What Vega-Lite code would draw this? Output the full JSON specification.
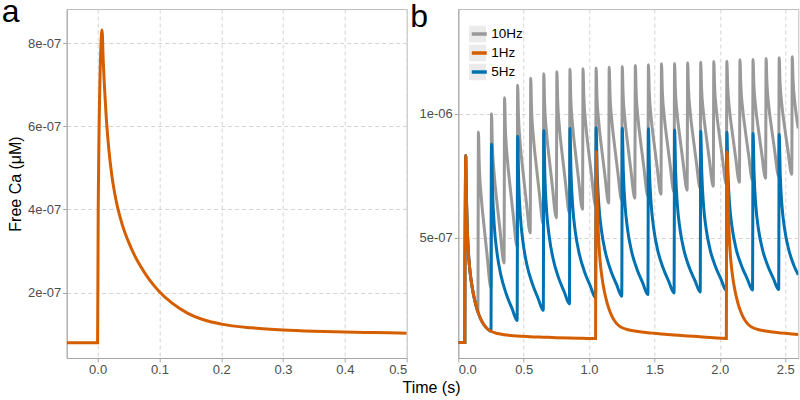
{
  "$schema": "https://vega.github.io/schema/vega-lite/v6.json",
  "background": "white",
  "padding": {"left": 0.7, "top": -5, "right": 0, "bottom": 0},
  "bounds": "flush",
  "spacing": 51.6,
  "config": {
    "font": "Liberation Sans",
    "view": {"stroke": "#bdbdbd", "strokeWidth": 1},
    "style": {
      "guide-title": {"fontSize": 16, "font": "Liberation Sans", "fontWeight": "normal", "fill": "black"},
      "guide-label": {"fontSize": 13, "font": "Liberation Sans", "fill": "#4d4d4d"}
    },
    "axis": {
      "labelFont": "Liberation Sans", "labelFontSize": 13, "labelColor": "#4d4d4d",
      "titleFont": "Liberation Sans", "titleFontSize": 16, "titleFontWeight": "normal", "titleColor": "black",
      "domainColor": "#a6a6a6", "tickColor": "#a6a6a6", "tickSize": 4, "labelPadding": 2,
      "gridColor": "#cfcfcf", "gridDash": [4, 3], "gridWidth": 0.9
    }
  },
  "datasets": {
    "single": [
      {"t": -0.05, "v": 7.9e-8}, {"t": 0, "v": 7.9e-8}, {"t": 0.001, "v": 4.0e-7}, {"t": 0.0055, "v": 8.0e-7},
      {"t": 0.0072, "v": 8.32e-7}, {"t": 0.009, "v": 7.62e-7}, {"t": 0.011, "v": 6.98e-7}, {"t": 0.014, "v": 6.21e-7},
      {"t": 0.018, "v": 5.47e-7}, {"t": 0.023, "v": 4.82e-7}, {"t": 0.03, "v": 4.21e-7}, {"t": 0.04, "v": 3.63e-7},
      {"t": 0.05, "v": 3.22e-7}, {"t": 0.06, "v": 2.89e-7}, {"t": 0.07, "v": 2.62e-7}, {"t": 0.08, "v": 2.39e-7},
      {"t": 0.09, "v": 2.19e-7}, {"t": 0.1, "v": 2.02e-7}, {"t": 0.12, "v": 1.75e-7}, {"t": 0.146, "v": 1.50e-7},
      {"t": 0.17, "v": 1.35e-7}, {"t": 0.2, "v": 1.24e-7}, {"t": 0.25, "v": 1.15e-7}, {"t": 0.3, "v": 1.10e-7},
      {"t": 0.35, "v": 1.07e-7}, {"t": 0.4, "v": 1.05e-7}, {"t": 0.45, "v": 1.035e-7}, {"t": 0.5, "v": 1.02e-7}
    ],
    "hz1": [
      {"t": 0, "v": 7.9e-8}, {"t": 0.05, "v": 7.9e-8}, {"t": 0.051, "v": 4.0e-7}, {"t": 0.0555, "v": 8.0e-7},
      {"t": 0.0572, "v": 8.32e-7}, {"t": 0.059, "v": 7.62e-7}, {"t": 0.061, "v": 6.98e-7}, {"t": 0.064, "v": 6.21e-7},
      {"t": 0.068, "v": 5.47e-7}, {"t": 0.073, "v": 4.82e-7}, {"t": 0.08, "v": 4.21e-7}, {"t": 0.09, "v": 3.63e-7},
      {"t": 0.1, "v": 3.22e-7}, {"t": 0.11, "v": 2.89e-7}, {"t": 0.12, "v": 2.62e-7}, {"t": 0.13, "v": 2.39e-7},
      {"t": 0.14, "v": 2.19e-7}, {"t": 0.15, "v": 2.02e-7}, {"t": 0.17, "v": 1.75e-7}, {"t": 0.196, "v": 1.50e-7},
      {"t": 0.22, "v": 1.35e-7}, {"t": 0.25, "v": 1.24e-7}, {"t": 0.3, "v": 1.15e-7}, {"t": 0.35, "v": 1.10e-7},
      {"t": 0.4, "v": 1.07e-7}, {"t": 0.45, "v": 1.05e-7}, {"t": 0.5, "v": 1.035e-7}, {"t": 0.55, "v": 1.02e-7},
      {"t": 0.65, "v": 1.0e-7}, {"t": 0.75, "v": 9.8e-8}, {"t": 0.85, "v": 9.65e-8}, {"t": 0.95, "v": 9.55e-8},
      {"t": 1.05, "v": 9.45e-8},
      {"t": 1.051, "v": 4.15e-7}, {"t": 1.0555, "v": 8.15e-7}, {"t": 1.0572, "v": 8.47e-7}, {"t": 1.059, "v": 7.77e-7},
      {"t": 1.061, "v": 7.13e-7}, {"t": 1.064, "v": 6.36e-7}, {"t": 1.068, "v": 5.62e-7}, {"t": 1.073, "v": 4.97e-7},
      {"t": 1.08, "v": 4.36e-7}, {"t": 1.09, "v": 3.78e-7}, {"t": 1.1, "v": 3.37e-7}, {"t": 1.11, "v": 3.04e-7},
      {"t": 1.12, "v": 2.77e-7}, {"t": 1.13, "v": 2.54e-7}, {"t": 1.14, "v": 2.34e-7}, {"t": 1.15, "v": 2.17e-7},
      {"t": 1.17, "v": 1.90e-7}, {"t": 1.196, "v": 1.65e-7}, {"t": 1.22, "v": 1.50e-7}, {"t": 1.25, "v": 1.39e-7},
      {"t": 1.3, "v": 1.30e-7}, {"t": 1.35, "v": 1.25e-7}, {"t": 1.4, "v": 1.21e-7}, {"t": 1.45, "v": 1.18e-7},
      {"t": 1.5, "v": 1.155e-7}, {"t": 1.55, "v": 1.13e-7}, {"t": 1.6, "v": 1.11e-7}, {"t": 1.65, "v": 1.09e-7},
      {"t": 1.75, "v": 1.05e-7}, {"t": 1.85, "v": 1.015e-7}, {"t": 1.95, "v": 9.75e-8}, {"t": 2.05, "v": 9.45e-8},
      {"t": 2.051, "v": 4.15e-7}, {"t": 2.0555, "v": 8.15e-7}, {"t": 2.0572, "v": 8.47e-7}, {"t": 2.059, "v": 7.77e-7},
      {"t": 2.061, "v": 7.13e-7}, {"t": 2.064, "v": 6.36e-7}, {"t": 2.068, "v": 5.62e-7}, {"t": 2.073, "v": 4.97e-7},
      {"t": 2.08, "v": 4.36e-7}, {"t": 2.09, "v": 3.78e-7}, {"t": 2.1, "v": 3.37e-7}, {"t": 2.11, "v": 3.04e-7},
      {"t": 2.12, "v": 2.77e-7}, {"t": 2.13, "v": 2.54e-7}, {"t": 2.14, "v": 2.34e-7}, {"t": 2.15, "v": 2.17e-7},
      {"t": 2.17, "v": 1.90e-7}, {"t": 2.196, "v": 1.65e-7}, {"t": 2.22, "v": 1.50e-7}, {"t": 2.25, "v": 1.39e-7},
      {"t": 2.3, "v": 1.30e-7}, {"t": 2.35, "v": 1.25e-7}, {"t": 2.4, "v": 1.21e-7}, {"t": 2.45, "v": 1.18e-7},
      {"t": 2.5, "v": 1.155e-7}, {"t": 2.55, "v": 1.13e-7}, {"t": 2.6, "v": 1.11e-7}
    ],
    "hz5": [
      {"t": 0, "v": 7.9e-8}, {"t": 0.05, "v": 7.9e-8}, {"t": 0.051, "v": 4.0e-7}, {"t": 0.0555, "v": 8.0e-7},
      {"t": 0.0572, "v": 8.32e-7}, {"t": 0.059, "v": 7.62e-7}, {"t": 0.061, "v": 6.98e-7}, {"t": 0.064, "v": 6.21e-7},
      {"t": 0.068, "v": 5.47e-7}, {"t": 0.073, "v": 4.82e-7}, {"t": 0.08, "v": 4.21e-7}, {"t": 0.09, "v": 3.63e-7},
      {"t": 0.1, "v": 3.22e-7}, {"t": 0.11, "v": 2.89e-7}, {"t": 0.12, "v": 2.62e-7}, {"t": 0.13, "v": 2.39e-7},
      {"t": 0.14, "v": 2.19e-7}, {"t": 0.15, "v": 2.02e-7}, {"t": 0.17, "v": 1.75e-7}, {"t": 0.196, "v": 1.50e-7},
      {"t": 0.22, "v": 1.35e-7}, {"t": 0.25, "v": 1.24e-7},
      {"t": 0.254, "v": 8.77e-7}, {"t": 0.262, "v": 6.92e-7}, {"t": 0.275, "v": 5.50e-7}, {"t": 0.295, "v": 4.44e-7}, {"t": 0.325, "v": 3.52e-7}, {"t": 0.365, "v": 2.77e-7}, {"t": 0.41, "v": 2.17e-7}, {"t": 0.45, "v": 1.67e-7},
      {"t": 0.454, "v": 9.10e-7}, {"t": 0.462, "v": 7.27e-7}, {"t": 0.475, "v": 5.87e-7}, {"t": 0.495, "v": 4.82e-7}, {"t": 0.525, "v": 3.91e-7}, {"t": 0.565, "v": 3.17e-7}, {"t": 0.61, "v": 2.57e-7}, {"t": 0.65, "v": 2.08e-7},
      {"t": 0.654, "v": 9.33e-7}, {"t": 0.662, "v": 7.51e-7}, {"t": 0.675, "v": 6.11e-7}, {"t": 0.695, "v": 5.07e-7}, {"t": 0.725, "v": 4.16e-7}, {"t": 0.765, "v": 3.42e-7}, {"t": 0.81, "v": 2.83e-7}, {"t": 0.85, "v": 2.34e-7},
      {"t": 0.854, "v": 9.41e-7}, {"t": 0.862, "v": 7.63e-7}, {"t": 0.875, "v": 6.27e-7}, {"t": 0.895, "v": 5.24e-7}, {"t": 0.925, "v": 4.36e-7}, {"t": 0.965, "v": 3.64e-7}, {"t": 1.01, "v": 3.06e-7}, {"t": 1.05, "v": 2.58e-7},
      {"t": 1.054, "v": 9.44e-7}, {"t": 1.062, "v": 7.67e-7}, {"t": 1.075, "v": 6.32e-7}, {"t": 1.095, "v": 5.30e-7}, {"t": 1.125, "v": 4.42e-7}, {"t": 1.165, "v": 3.70e-7}, {"t": 1.21, "v": 3.13e-7}, {"t": 1.25, "v": 2.65e-7},
      {"t": 1.254, "v": 9.42e-7}, {"t": 1.262, "v": 7.68e-7}, {"t": 1.275, "v": 6.34e-7}, {"t": 1.295, "v": 5.33e-7}, {"t": 1.325, "v": 4.46e-7}, {"t": 1.365, "v": 3.76e-7}, {"t": 1.41, "v": 3.19e-7}, {"t": 1.45, "v": 2.72e-7},
      {"t": 1.454, "v": 9.40e-7}, {"t": 1.462, "v": 7.68e-7}, {"t": 1.475, "v": 6.36e-7}, {"t": 1.495, "v": 5.36e-7}, {"t": 1.525, "v": 4.50e-7}, {"t": 1.565, "v": 3.81e-7}, {"t": 1.61, "v": 3.24e-7}, {"t": 1.65, "v": 2.78e-7},
      {"t": 1.654, "v": 9.35e-7}, {"t": 1.662, "v": 7.65e-7}, {"t": 1.675, "v": 6.35e-7}, {"t": 1.695, "v": 5.37e-7}, {"t": 1.725, "v": 4.52e-7}, {"t": 1.765, "v": 3.83e-7}, {"t": 1.81, "v": 3.28e-7}, {"t": 1.85, "v": 2.82e-7},
      {"t": 1.854, "v": 9.30e-7}, {"t": 1.862, "v": 7.63e-7}, {"t": 1.875, "v": 6.34e-7}, {"t": 1.895, "v": 5.38e-7}, {"t": 1.925, "v": 4.54e-7}, {"t": 1.965, "v": 3.87e-7}, {"t": 2.01, "v": 3.32e-7}, {"t": 2.05, "v": 2.87e-7},
      {"t": 2.054, "v": 9.26e-7}, {"t": 2.062, "v": 7.61e-7}, {"t": 2.075, "v": 6.33e-7}, {"t": 2.095, "v": 5.38e-7}, {"t": 2.125, "v": 4.55e-7}, {"t": 2.165, "v": 3.89e-7}, {"t": 2.21, "v": 3.35e-7}, {"t": 2.25, "v": 2.90e-7},
      {"t": 2.254, "v": 9.21e-7}, {"t": 2.262, "v": 7.57e-7}, {"t": 2.275, "v": 6.32e-7}, {"t": 2.295, "v": 5.37e-7}, {"t": 2.325, "v": 4.56e-7}, {"t": 2.365, "v": 3.90e-7}, {"t": 2.41, "v": 3.36e-7}, {"t": 2.45, "v": 2.92e-7},
      {"t": 2.454, "v": 9.17e-7}, {"t": 2.462, "v": 7.55e-7}, {"t": 2.475, "v": 6.31e-7}, {"t": 2.495, "v": 5.38e-7}, {"t": 2.525, "v": 4.57e-7}, {"t": 2.565, "v": 3.91e-7}, {"t": 2.6, "v": 3.51e-7}
    ],
    "hz10": [
      {"t": 0, "v": 7.9e-8}, {"t": 0.05, "v": 7.9e-8}, {"t": 0.051, "v": 4.0e-7}, {"t": 0.0555, "v": 8.0e-7},
      {"t": 0.0572, "v": 8.32e-7}, {"t": 0.059, "v": 7.62e-7}, {"t": 0.061, "v": 6.98e-7}, {"t": 0.064, "v": 6.21e-7},
      {"t": 0.068, "v": 5.47e-7}, {"t": 0.073, "v": 4.82e-7}, {"t": 0.08, "v": 4.21e-7}, {"t": 0.09, "v": 3.63e-7},
      {"t": 0.1, "v": 3.22e-7}, {"t": 0.11, "v": 2.89e-7}, {"t": 0.12, "v": 2.62e-7}, {"t": 0.13, "v": 2.39e-7},
      {"t": 0.14, "v": 2.19e-7}, {"t": 0.15, "v": 2.02e-7},
      {"t": 0.154, "v": 9.27e-7}, {"t": 0.16, "v": 8.01e-7}, {"t": 0.174, "v": 6.75e-7}, {"t": 0.194, "v": 5.62e-7}, {"t": 0.219, "v": 4.36e-7}, {"t": 0.25, "v": 2.98e-7},
      {"t": 0.254, "v": 10.0e-7}, {"t": 0.26, "v": 8.80e-7}, {"t": 0.274, "v": 7.60e-7}, {"t": 0.294, "v": 6.51e-7}, {"t": 0.319, "v": 5.31e-7}, {"t": 0.35, "v": 3.99e-7},
      {"t": 0.354, "v": 10.65e-7}, {"t": 0.36, "v": 9.45e-7}, {"t": 0.374, "v": 8.25e-7}, {"t": 0.394, "v": 7.17e-7}, {"t": 0.419, "v": 5.97e-7}, {"t": 0.45, "v": 4.65e-7},
      {"t": 0.454, "v": 11.15e-7}, {"t": 0.46, "v": 9.96e-7}, {"t": 0.474, "v": 8.77e-7}, {"t": 0.494, "v": 7.70e-7}, {"t": 0.519, "v": 6.51e-7}, {"t": 0.55, "v": 5.2e-7},
      {"t": 0.554, "v": 11.43e-7}, {"t": 0.56, "v": 10.25e-7}, {"t": 0.574, "v": 9.08e-7}, {"t": 0.594, "v": 8.02e-7}, {"t": 0.619, "v": 6.84e-7}, {"t": 0.65, "v": 5.55e-7},
      {"t": 0.654, "v": 11.61e-7}, {"t": 0.66, "v": 10.45e-7}, {"t": 0.674, "v": 9.29e-7}, {"t": 0.694, "v": 8.25e-7}, {"t": 0.719, "v": 7.09e-7}, {"t": 0.75, "v": 5.81e-7},
      {"t": 0.754, "v": 11.69e-7}, {"t": 0.76, "v": 10.55e-7}, {"t": 0.774, "v": 9.41e-7}, {"t": 0.794, "v": 8.39e-7}, {"t": 0.819, "v": 7.25e-7}, {"t": 0.85, "v": 6.0e-7},
      {"t": 0.854, "v": 11.79e-7}, {"t": 0.86, "v": 10.66e-7}, {"t": 0.874, "v": 9.53e-7}, {"t": 0.894, "v": 8.52e-7}, {"t": 0.919, "v": 7.39e-7}, {"t": 0.95, "v": 6.15e-7},
      {"t": 0.954, "v": 11.81e-7}, {"t": 0.96, "v": 10.71e-7}, {"t": 0.974, "v": 9.61e-7}, {"t": 0.994, "v": 8.61e-7}, {"t": 1.019, "v": 7.51e-7}, {"t": 1.05, "v": 6.3e-7},
      {"t": 1.054, "v": 11.85e-7}, {"t": 1.06, "v": 10.76e-7}, {"t": 1.074, "v": 9.67e-7}, {"t": 1.094, "v": 8.69e-7}, {"t": 1.119, "v": 7.61e-7}, {"t": 1.15, "v": 6.41e-7},
      {"t": 1.154, "v": 11.88e-7}, {"t": 1.16, "v": 10.80e-7}, {"t": 1.174, "v": 9.73e-7}, {"t": 1.194, "v": 8.76e-7}, {"t": 1.219, "v": 7.68e-7}, {"t": 1.25, "v": 6.5e-7},
      {"t": 1.254, "v": 11.91e-7}, {"t": 1.26, "v": 10.85e-7}, {"t": 1.274, "v": 9.79e-7}, {"t": 1.294, "v": 8.83e-7}, {"t": 1.319, "v": 7.77e-7}, {"t": 1.35, "v": 6.6e-7},
      {"t": 1.354, "v": 11.95e-7}, {"t": 1.36, "v": 10.90e-7}, {"t": 1.374, "v": 9.84e-7}, {"t": 1.394, "v": 8.89e-7}, {"t": 1.419, "v": 7.84e-7}, {"t": 1.45, "v": 6.68e-7},
      {"t": 1.454, "v": 11.98e-7}, {"t": 1.46, "v": 10.94e-7}, {"t": 1.474, "v": 9.89e-7}, {"t": 1.494, "v": 8.95e-7}, {"t": 1.519, "v": 7.91e-7}, {"t": 1.55, "v": 6.76e-7},
      {"t": 1.554, "v": 12.02e-7}, {"t": 1.56, "v": 10.98e-7}, {"t": 1.574, "v": 9.95e-7}, {"t": 1.594, "v": 9.02e-7}, {"t": 1.619, "v": 7.98e-7}, {"t": 1.65, "v": 6.84e-7},
      {"t": 1.654, "v": 12.03e-7}, {"t": 1.66, "v": 11.01e-7}, {"t": 1.674, "v": 9.99e-7}, {"t": 1.694, "v": 9.07e-7}, {"t": 1.719, "v": 8.04e-7}, {"t": 1.75, "v": 6.92e-7},
      {"t": 1.754, "v": 12.06e-7}, {"t": 1.76, "v": 11.05e-7}, {"t": 1.774, "v": 10.04e-7}, {"t": 1.794, "v": 9.13e-7}, {"t": 1.819, "v": 8.11e-7}, {"t": 1.85, "v": 7.0e-7},
      {"t": 1.854, "v": 12.08e-7}, {"t": 1.86, "v": 11.08e-7}, {"t": 1.874, "v": 10.08e-7}, {"t": 1.894, "v": 9.18e-7}, {"t": 1.919, "v": 8.18e-7}, {"t": 1.95, "v": 7.08e-7},
      {"t": 1.954, "v": 12.11e-7}, {"t": 1.96, "v": 11.12e-7}, {"t": 1.974, "v": 10.13e-7}, {"t": 1.994, "v": 9.24e-7}, {"t": 2.019, "v": 8.25e-7}, {"t": 2.05, "v": 7.16e-7},
      {"t": 2.054, "v": 12.12e-7}, {"t": 2.06, "v": 11.14e-7}, {"t": 2.074, "v": 10.17e-7}, {"t": 2.094, "v": 9.29e-7}, {"t": 2.119, "v": 8.31e-7}, {"t": 2.15, "v": 7.24e-7},
      {"t": 2.154, "v": 12.18e-7}, {"t": 2.16, "v": 11.21e-7}, {"t": 2.174, "v": 10.24e-7}, {"t": 2.194, "v": 9.36e-7}, {"t": 2.219, "v": 8.39e-7}, {"t": 2.25, "v": 7.32e-7},
      {"t": 2.254, "v": 12.19e-7}, {"t": 2.26, "v": 11.23e-7}, {"t": 2.274, "v": 10.27e-7}, {"t": 2.294, "v": 9.41e-7}, {"t": 2.319, "v": 8.45e-7}, {"t": 2.35, "v": 7.4e-7},
      {"t": 2.354, "v": 12.23e-7}, {"t": 2.36, "v": 11.28e-7}, {"t": 2.374, "v": 10.33e-7}, {"t": 2.394, "v": 9.48e-7}, {"t": 2.419, "v": 8.53e-7}, {"t": 2.45, "v": 7.48e-7},
      {"t": 2.454, "v": 12.26e-7}, {"t": 2.46, "v": 11.32e-7}, {"t": 2.474, "v": 10.38e-7}, {"t": 2.494, "v": 9.53e-7}, {"t": 2.519, "v": 8.59e-7}, {"t": 2.55, "v": 7.56e-7},
      {"t": 2.554, "v": 12.30e-7}, {"t": 2.56, "v": 11.37e-7}, {"t": 2.574, "v": 10.44e-7}, {"t": 2.594, "v": 9.60e-7}, {"t": 2.6, "v": 9.41e-7}
    ],
    "keys": [{"k": "10Hz"}, {"k": "1Hz"}, {"k": "5Hz"}]
  },
  "hconcat": [
    {
      "width": 340,
      "height": 349,
      "layer": [
        {
          "data": {"name": "single"},
          "mark": {"type": "line", "color": "#d55e00", "strokeWidth": 3, "interpolate": "monotone", "clip": true},
          "encoding": {
            "x": {
              "field": "t", "type": "quantitative",
              "scale": {"domain": [-0.05, 0.5], "nice": false, "zero": false},
              "axis": {
                "values": [0, 0.05, 0.1, 0.15, 0.2, 0.25, 0.3, 0.35, 0.4, 0.45, 0.5],
                "labelExpr": "abs(datum.value*10 - round(datum.value*10)) < 0.001 ? format(datum.value, '.1f') : ''",
                "labelFontSize": 13,
                "encode": {"ticks": {"update": {"opacity": {"signal": "abs(datum.value*10 - round(datum.value*10)) < 0.001 ? 1 : 0"}}}},
                "title": "Time (s)", "titleFontSize": 16, "titleFontWeight": "normal", "titleColor": "black",
                "titleX": 364.3, "titleY": 35, "titleBaseline": "alphabetic"
              }
            },
            "y": {
              "field": "v", "type": "quantitative",
              "scale": {"domain": [4.24e-8, 8.827e-7], "nice": false, "zero": false},
              "axis": {
                "values": [2e-7, 4e-7, 6e-7, 8e-7],
                "labelExpr": "replace(format(datum.value, '.0e'), 'e-', 'e-0')",
                "labelFontSize": 13,
                "title": "Free Ca (μM)", "titleFontSize": 16, "titleFontWeight": "normal", "titleColor": "black",
                "titleX": -46, "titleBaseline": "alphabetic"
              }
            }
          }
        },
        {
          "data": {"values": [{}]},
          "mark": {"type": "text", "text": "a", "font": "Liberation Sans", "fontSize": 32, "color": "black", "align": "left", "baseline": "alphabetic", "dx": -65, "dy": 12.7},
          "encoding": {
            "x": {"datum": -0.05, "type": "quantitative"},
            "y": {"datum": 8.827e-7, "type": "quantitative"}
          }
        }
      ]
    },
    {
      "width": 340,
      "height": 349,
      "layer": [
        {
          "data": {"name": "hz10"},
          "mark": {"type": "line", "strokeWidth": 3, "interpolate": "monotone", "clip": true},
          "encoding": {
            "x": {
              "field": "t", "type": "quantitative",
              "scale": {"domain": [0, 2.6], "nice": false, "zero": false},
              "axis": {
                "values": [0, 0.25, 0.5, 0.75, 1, 1.25, 1.5, 1.75, 2, 2.25, 2.5],
                "labelExpr": "abs(datum.value*2 - round(datum.value*2)) < 0.001 ? format(datum.value, '.1f') : ''",
                "labelFontSize": 13,
                "encode": {"ticks": {"update": {"opacity": {"signal": "abs(datum.value*2 - round(datum.value*2)) < 0.001 ? 1 : 0"}}}},
                "title": null
              }
            },
            "y": {
              "field": "v", "type": "quantitative",
              "scale": {"domain": [1.61e-8, 1.4222e-6], "nice": false, "zero": false},
              "axis": {
                "values": [5e-7, 1e-6],
                "labelExpr": "replace(format(datum.value, '.0e'), 'e-', 'e-0')",
                "labelFontSize": 13,
                "title": null
              }
            },
            "color": {
              "datum": "10Hz", "type": "nominal",
              "scale": {"domain": ["10Hz", "1Hz", "5Hz"], "range": ["#999999", "#d55e00", "#0072b2"]},
              "legend": {
                "orient": "none", "legendX": 403.1, "legendY": 16.5, "title": null, "padding": 0,
                "symbolType": "stroke", "symbolStrokeWidth": 3.5, "symbolSize": 225, "symbolOpacity": 1,
                "labelFont": "Liberation Sans", "labelFontSize": 13.5, "labelColor": "black", "labelOffset": 2.5,
                "rowPadding": 2, "clipHeight": 17, "zindex": 2
              }
            }
          }
        },
        {
          "data": {"name": "hz5"},
          "mark": {"type": "line", "strokeWidth": 3, "interpolate": "monotone", "clip": true},
          "encoding": {
            "x": {"field": "t", "type": "quantitative"},
            "y": {"field": "v", "type": "quantitative"},
            "color": {"datum": "5Hz", "type": "nominal"}
          }
        },
        {
          "data": {"name": "hz1"},
          "mark": {"type": "line", "strokeWidth": 3, "interpolate": "monotone", "clip": true},
          "encoding": {
            "x": {"field": "t", "type": "quantitative"},
            "y": {"field": "v", "type": "quantitative"},
            "color": {"datum": "1Hz", "type": "nominal"}
          }
        },
        {
          "data": {"name": "keys"},
          "mark": {"type": "square", "filled": true, "size": 0, "strokeWidth": 0},
          "encoding": {
            "x": {"datum": 0, "type": "quantitative"},
            "y": {"datum": 1e-6, "type": "quantitative"},
            "fill": {
              "field": "k", "type": "nominal",
              "scale": {"range": ["#ebebeb", "#ebebeb", "#ebebeb"]},
              "legend": {
                "orient": "none", "legendX": 402.3, "legendY": 16.5, "title": null, "padding": 0,
                "symbolType": "square", "symbolSize": 289, "symbolStrokeWidth": 0, "symbolOpacity": 1,
                "labelFontSize": 13.5, "labelOpacity": 0, "labelOffset": 6,
                "rowPadding": 2, "clipHeight": 17, "zindex": 1
              }
            }
          }
        },
        {
          "data": {"values": [{}]},
          "mark": {"type": "text", "text": "b", "font": "Liberation Sans", "fontSize": 32, "color": "black", "align": "left", "baseline": "alphabetic", "dx": -48, "dy": 18},
          "encoding": {
            "x": {"datum": 0, "type": "quantitative"},
            "y": {"datum": 1.4222e-6, "type": "quantitative"}
          }
        }
      ]
    }
  ]
}
